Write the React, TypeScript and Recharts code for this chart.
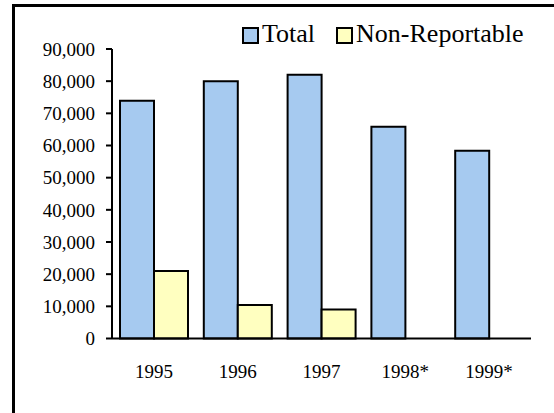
import React from "react";
import { BarChart, Bar, XAxis, YAxis, Legend } from "recharts";

const years = ["1995", "1996", "1997", "1998*", "1999*"];
const totalCases = [73900, 80000, 82000, 65800, 58400];
const nonReportable: (number | null)[] = [21000, 10400, 9000, null, null];
const yTicks = [0, 10000, 20000, 30000, 40000, 50000, 60000, 70000, 80000, 90000];

const BLUE = "#A6CAF0";
const YELLOW = "#FFFFC0";
const FONT = '"Liberation Serif", "Times New Roman", serif';

const data = years.map((year, i) => ({
  year,
  total: totalCases[i],
  nonReportable: nonReportable[i],
}));

const legendItems = [
  { label: "Total", color: BLUE },
  { label: "Non-Reportable", color: YELLOW },
];

function ChartLegend() {
  return (
    <div style={{ display: "flex", fontFamily: FONT, fontSize: 26, lineHeight: "26px", color: "#000", whiteSpace: "nowrap" }}>
      {legendItems.map((item, i) => (
        <div key={item.label} style={{ display: "flex", alignItems: "flex-start", marginLeft: i === 0 ? 0 : 21 }}>
          <span
            style={{
              width: 17,
              height: 17,
              boxSizing: "border-box",
              border: "2px solid #000",
              background: item.color,
              marginTop: 6,
              marginRight: 3,
            }}
          />
          <span>{item.label}</span>
        </div>
      ))}
    </div>
  );
}

export default function App() {
  return (
    <div style={{ position: "absolute", left: 0, top: 0, width: 554, height: 413, overflow: "hidden", background: "#fff" }}>
      <div
        style={{
          position: "absolute",
          left: 12,
          top: 4,
          width: 700,
          height: 600,
          border: "3px solid #000",
        }}
      />
      <div style={{ position: "absolute", left: 0, top: 0 }}>
        <BarChart
          width={554}
          height={413}
          data={data}
          margin={{ top: 49, right: 23, bottom: 0, left: 0 }}
          barSize={34}
          barGap={0}
        >
          <XAxis
            dataKey="year"
            height={74.5}
            tickLine={false}
            tickSize={0}
            tickMargin={26}
            axisLine={{ stroke: "#000", strokeWidth: 2 }}
            tick={{ fill: "#000", fontSize: 19, fontFamily: FONT }}
          />
          <YAxis
            width={112}
            domain={[0, 90000]}
            ticks={yTicks}
            interval={0}
            tickSize={6}
            tickMargin={11}
            tickFormatter={(v: number) => v.toLocaleString("en-US")}
            axisLine={{ stroke: "#000", strokeWidth: 2 }}
            tickLine={{ stroke: "#000", strokeWidth: 2 }}
            tick={{ fill: "#000", fontSize: 19, fontFamily: FONT }}
          />
          <Legend
            layout="horizontal"
            verticalAlign="middle"
            align="center"
            wrapperStyle={{ top: 21, left: 242, width: "auto" }}
            content={() => <ChartLegend />}
          />
          <Bar dataKey="total" name="Total" fill={BLUE} stroke="#000" strokeWidth={2} isAnimationActive={false} />
          <Bar dataKey="nonReportable" name="Non-Reportable" fill={YELLOW} stroke="#000" strokeWidth={2} isAnimationActive={false} />
        </BarChart>
      </div>
    </div>
  );
}
